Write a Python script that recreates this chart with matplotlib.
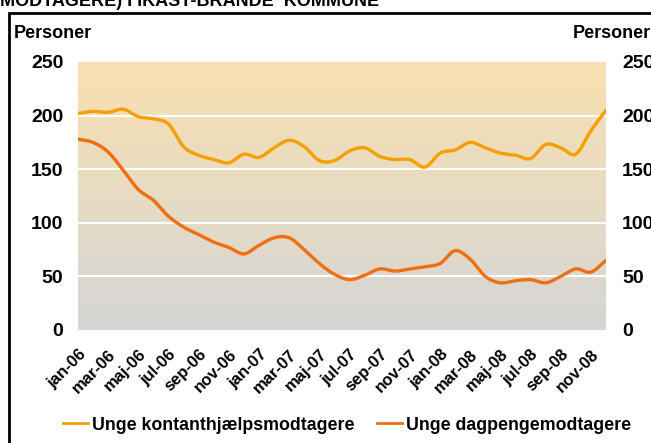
import numpy as np
import matplotlib
matplotlib.use("Agg")
import matplotlib.pyplot as plt
from matplotlib.patches import Rectangle
from matplotlib.lines import Line2D

plt.rcParams['font.family'] = ['Liberation Sans', 'DejaVu Sans']
plt.rcParams['font.weight'] = 'bold'

# data
months = ['jan', 'feb', 'mar', 'apr', 'maj', 'jun', 'jul', 'aug', 'sep', 'okt', 'nov', 'dec']
labels = [m + '-' + y for y in ['06', '07', '08'] for m in months]
kontant = [202, 204, 203, 206, 199, 197, 192, 171, 163, 159, 156, 164,
           161, 170, 177, 171, 158, 158, 167, 170, 162, 159, 159, 152,
           165, 168, 175, 170, 165, 163, 160, 173, 170, 164, 186, 205]
dagpenge = [178, 175, 166, 149, 131, 121, 106, 96, 89, 82, 77, 71,
            79, 86, 86, 75, 62, 52, 47, 51, 57, 55, 57, 59,
            62, 74, 66, 50, 44, 46, 47, 44, 50, 57, 54, 65]
series_names = ['Unge kontanthjælpsmodtagere', 'Unge dagpengemodtagere']
colors = ['#F5A000', '#EE6E10']
yticks = [0, 50, 100, 150, 200, 250]


def smooth(y, n=12):
    # catmull-rom spline, like excel's smoothed line
    y = np.asarray(y, float)
    p = np.concatenate([[2 * y[0] - y[1]], y, [2 * y[-1] - y[-2]]])
    xs, ys = [], []
    for i in range(len(y) - 1):
        t = np.linspace(0, 1, n, endpoint=False)
        p0, p1, p2, p3 = p[i], p[i + 1], p[i + 2], p[i + 3]
        v = 0.5 * ((2 * p1) + (-p0 + p2) * t + (2 * p0 - 5 * p1 + 4 * p2 - p3) * t ** 2
                   + (-p0 + 3 * p1 - 3 * p2 + p3) * t ** 3)
        xs.append(i + t)
        ys.append(v)
    xs.append([len(y) - 1])
    ys.append([y[-1]])
    return np.concatenate(xs), np.concatenate(ys)


fig = plt.figure(figsize=(6.51, 4.43), dpi=100)

# frame and clipped title
fig.patches.append(Rectangle((9 / 651, -0.1), 1.2, (443 - 13) / 443 + 0.1, transform=fig.transFigure,
                             fill=False, edgecolor='black', linewidth=2))
fig.text(0.0, 1 - 1 / 443, 'MODTAGERE) I IKAST-BRANDE  KOMMUNE', fontsize=13, fontweight='bold',
         ha='left', va='center')
fig.text(14 / 651, 1 - 33 / 443, 'Personer', fontsize=13, ha='left', va='center')
fig.text(651 / 651, 1 - 33 / 443, 'Personer', fontsize=13, ha='right', va='center')

ax = fig.add_axes([78 / 651, (443 - 330) / 443, 528 / 651, 268 / 443])
n = len(labels)
ax.set_xlim(0, n - 1)
ax.set_ylim(0, 250)

# gradient background
top = np.array([249, 224, 176]) / 255
bot = np.array([213, 214, 214]) / 255
g = np.linspace(0, 1, 256)[:, None]
grad = (bot * (1 - g) + top * g)[:, None, :].repeat(2, axis=1)
ax.imshow(grad, extent=[0, n - 1, 0, 250], origin='lower', aspect='auto', zorder=0)

for yv in yticks[1:-1]:
    ax.axhline(yv, color='white', linewidth=1.5, zorder=1)

for vals, c in zip([kontant, dagpenge], colors):
    xs, ys = smooth(vals)
    ax.plot(xs, ys, color=c, linewidth=2.4, zorder=3, solid_capstyle='round')

for s in ax.spines.values():
    s.set_visible(False)
ax.set_yticks(yticks)
ax.set_yticklabels([str(v) for v in yticks], fontsize=14)
ax.set_xticks(range(0, n, 2))
ax.set_xticklabels(labels[::2], rotation=45, ha='right', rotation_mode='anchor', fontsize=12)
ax.tick_params(length=0, pad=10.5, axis='y')
ax.tick_params(length=0, pad=12, axis='x')

ax2 = ax.twinx()
ax2.set_ylim(0, 250)
ax2.set_yticks(yticks)
ax2.set_yticklabels([str(v) for v in yticks], fontsize=14)
ax2.tick_params(length=0, pad=11.5)
for s in ax2.spines.values():
    s.set_visible(False)

handles = [Line2D([], [], color=c, linewidth=2) for c in colors]
fig.legend(handles, series_names, loc='center', bbox_to_anchor=(347 / 651, 1 - 425 / 443), ncol=2,
           frameon=False, fontsize=12.8, handlelength=1.4, handletextpad=0.2, columnspacing=1.3)

fig.savefig('out.png', dpi=100)
